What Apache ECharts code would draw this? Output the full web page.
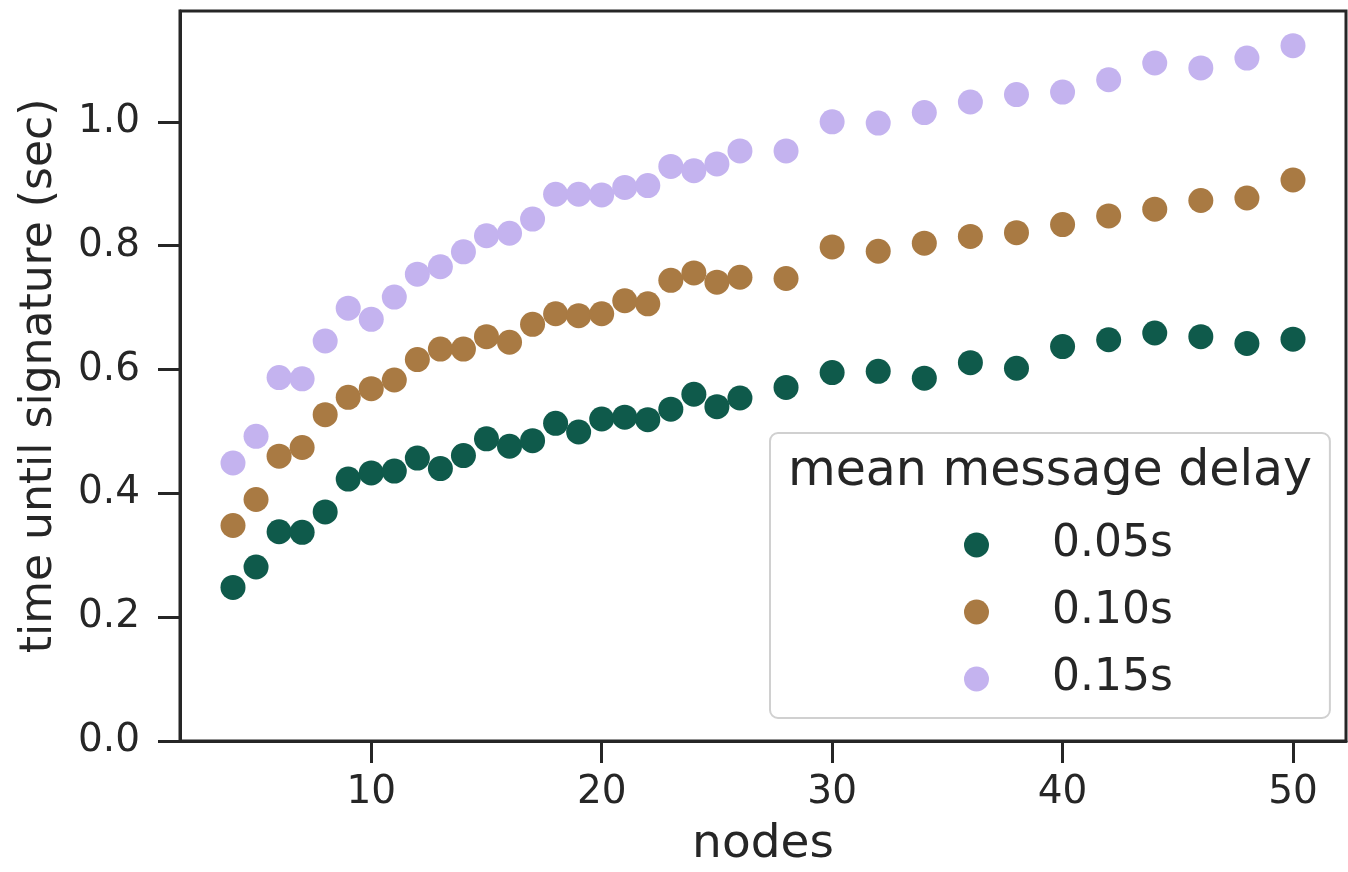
<!DOCTYPE html>
<html>
<head>
<meta charset="utf-8">
<script src="https://cdn.jsdelivr.net/npm/echarts@6/dist/echarts.min.js"></script>
<style>
  html, body { margin: 0; padding: 0; background: #fff; }
  #chart { width: 1348px; height: 872px; }
</style>
</head>
<body>
<div id="chart"></div>
<script>
// x values: every node count 4..26, then even counts up to 50
var nodes = [4, 5, 6, 7, 8, 9, 10, 11, 12, 13, 14, 15, 16, 17, 18, 19, 20, 21, 22, 23, 24, 25, 26,
  28, 30, 32, 34, 36, 38, 40, 42, 44, 46, 48, 50];

var delay005 = [0.248, 0.281, 0.338, 0.337, 0.370, 0.423, 0.433, 0.436, 0.457, 0.440, 0.461, 0.488,
  0.476, 0.485, 0.513, 0.499, 0.520, 0.523, 0.519, 0.536, 0.560, 0.540, 0.554,
  0.571, 0.595, 0.597, 0.586, 0.611, 0.602, 0.637, 0.648, 0.659, 0.653, 0.642, 0.649];

var delay010 = [0.348, 0.390, 0.460, 0.474, 0.527, 0.555, 0.569, 0.583, 0.616, 0.633, 0.633, 0.653,
  0.644, 0.673, 0.690, 0.687, 0.690, 0.711, 0.706, 0.744, 0.756, 0.741, 0.749,
  0.747, 0.798, 0.791, 0.804, 0.815, 0.821, 0.834, 0.848, 0.859, 0.873, 0.877, 0.906];

var delay015 = [0.449, 0.492, 0.587, 0.585, 0.646, 0.699, 0.681, 0.717, 0.754, 0.766, 0.790, 0.816,
  0.820, 0.843, 0.883, 0.883, 0.882, 0.894, 0.897, 0.928, 0.921, 0.932, 0.953,
  0.953, 1.000, 0.998, 1.015, 1.032, 1.044, 1.048, 1.068, 1.095, 1.087, 1.103, 1.123];

var seriesNames = ['0.05s', '0.10s', '0.15s'];
var xTicks = [10, 20, 30, 40, 50];
var yTicks = [0, 0.2, 0.4, 0.6, 0.8, 1.0];

function pairs(ys) {
  return nodes.map(function (x, i) { return [x, ys[i]]; });
}

var ink = '#262626';
var font = 'DejaVu Sans';

var chart = echarts.init(document.getElementById('chart'), null, { renderer: 'canvas' });

var option = {
  animation: false,
  color: ['#0f5a4b', '#a97a43', '#c4b3ef'],
  grid: {
    left: 180, right: 2, top: 11, bottom: 131,
    outerBoundsMode: 'none',
    show: true, borderColor: ink, borderWidth: 3, backgroundColor: 'transparent'
  },
  xAxis: {
    type: 'value',
    min: 1.7, max: 52.3,
    name: 'nodes',
    nameLocation: 'middle',
    nameGap: 80,
    nameTextStyle: { fontFamily: font, fontSize: 47, color: ink },
    splitLine: { show: false },
    axisLine: { lineStyle: { color: ink, width: 3 } },
    axisTick: { customValues: xTicks, length: 22, lineStyle: { color: ink, width: 3 } },
    axisLabel: { customValues: xTicks, margin: 32, fontFamily: font, fontSize: 39, color: ink }
  },
  yAxis: {
    type: 'value',
    min: 0, max: 1.179,
    name: 'time until signature (sec)',
    nameLocation: 'middle',
    nameGap: 118,
    nameTextStyle: { fontFamily: font, fontSize: 44, color: ink },
    splitLine: { show: false },
    axisLine: { lineStyle: { color: ink, width: 3 } },
    axisTick: { customValues: yTicks, length: 22, lineStyle: { color: ink, width: 3 } },
    axisLabel: {
      customValues: yTicks,
      margin: 40, fontFamily: font, fontSize: 39, color: ink,
      formatter: function (v) { return v.toFixed(1); }
    }
  },
  legend: {
    orient: 'vertical',
    left: 770, top: 433,
    data: seriesNames,
    icon: 'circle',
    itemWidth: 25, itemHeight: 25,
    itemGap: 17,
    padding: [87, 157, 14, 194],
    backgroundColor: 'rgba(255,255,255,0.8)',
    borderColor: '#d0d0d0', borderWidth: 2, borderRadius: 8,
    textStyle: { fontFamily: font, fontSize: 44, color: ink, lineHeight: 50, padding: [0, 0, 0, 58] },
    selectedMode: false
  },
  graphic: [{
    type: 'text',
    x: 1050, y: 472,
    z: 100,
    style: {
      text: 'mean message delay',
      fontFamily: font, fontSize: 49, fill: ink,
      textAlign: 'center', textVerticalAlign: 'middle'
    }
  }],
  series: [
    { name: seriesNames[0], type: 'scatter', symbolSize: 25, itemStyle: { opacity: 1 }, data: pairs(delay005) },
    { name: seriesNames[1], type: 'scatter', symbolSize: 25, itemStyle: { opacity: 1 }, data: pairs(delay010) },
    { name: seriesNames[2], type: 'scatter', symbolSize: 25, itemStyle: { opacity: 1 }, data: pairs(delay015) }
  ]
};

chart.setOption(option);
</script>
</body>
</html>
